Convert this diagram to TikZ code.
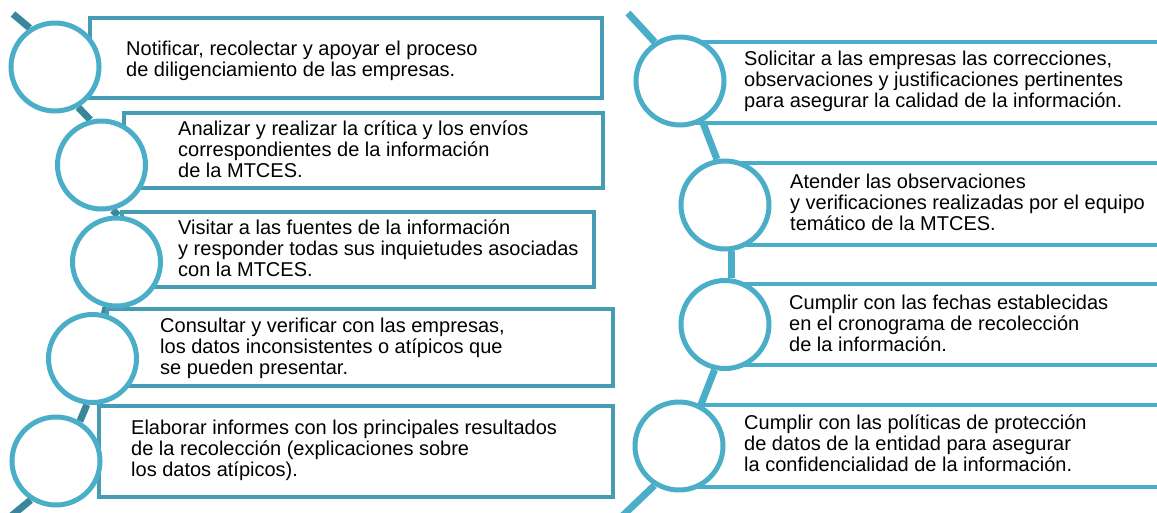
\documentclass[tikz,border=0pt]{standalone}
\usepackage{fontspec}
\setmainfont{Liberation Sans}
\usetikzlibrary{positioning}
\definecolor{ringblue}{RGB}{75,174,200}
\definecolor{boxblue}{RGB}{69,156,180}
\definecolor{spinedark}{RGB}{58,134,154}
\pgfdeclarelayer{background}
\pgfsetlayers{background,main}
\tikzset{
  ring/.style={circle, draw=ringblue, line width=5pt, fill=white, minimum size=88pt, inner sep=0pt},
  lbox/.style={draw=boxblue, line width=4pt},
  rbox/.style={draw=ringblue, line width=4.5pt},
  lspine/.style={draw=spinedark, line width=7pt},
  rspine/.style={draw=ringblue, line width=7pt},
  txt/.style={anchor=base west, align=left, inner sep=0pt, text=black,
    font=\fontsize{20}{20.6}\selectfont}
}

\begin{document}
\begin{tikzpicture}[x=1pt, y=-1pt]
			%%%%% START %%%%%
			\useasboundingbox (0,0) rectangle (1157,512);

			% left column: boxes
			\draw[lbox] (90, 18) rectangle (602, 98);
			\draw[lbox] (124, 113) rectangle (603, 188);
			\draw[lbox] (122, 212) rectangle (594, 287);
			\draw[lbox] (107, 309) rectangle (613, 386);
			\draw[lbox] (99, 406) rectangle (613, 497);

			% right column: open boxes
			\draw[rbox] (690, 42) rectangle (1175, 123);
			\draw[rbox] (735, 163) rectangle (1175, 245);
			\draw[rbox] (735, 284) rectangle (1175, 365);
			\draw[rbox] (690, 405) rectangle (1175, 487);

			% circles
			\node[ring] (c1) at (55, 67) {};
			\node[ring] (c2) at (101.5, 165) {};
			\node[ring] (c3) at (116.5, 262) {};
			\node[ring] (c4) at (92.5, 358.5) {};
			\node[ring] (c5) at (56, 461) {};

			\node[ring] (d1) at (680, 81) {};
			\node[ring] (d2) at (725, 205) {};
			\node[ring] (d3) at (725, 324.5) {};
			\node[ring] (d4) at (679, 446) {};

			% spine ends
			\coordinate (ltop) at (13, 14);
			\coordinate (lbot) at (4, 522);
			\coordinate (rtop) at (628, 13);
			\coordinate (rbot) at (614, 524);

			\begin{pgfonlayer}{background}
				\draw[lspine] (ltop) -- (c1.123);
				\draw[lspine] (c1.-60) -- (c2.104);
				\draw[lspine] (c2.-76) -- (c3.88);
				\draw[lspine] (c3.-103) -- (c4.75);
				\draw[lspine] (c4.-97) -- (c5.59);
				\draw[lspine] (c5.-123) -- (lbot);

				\draw[rspine] (rtop) -- (d1.123);
				\draw[rspine] (d1.-61) -- (d2.100);
				\draw[rspine] (d2.-82) -- (d3.82);
				\draw[rspine] (d3.-103) -- (d4.62);
				\draw[rspine] (d4.-122) -- (rbot);
			\end{pgfonlayer}

			% texts (placed at the baseline of the last line)
			\node[txt] (t1) at (126, 76) {Notificar, recolectar y apoyar el proceso\\de diligenciamiento de las empresas.};
			\node[txt] (t2) at (178, 177) {Analizar y realizar la crítica y los envíos\\correspondientes de la información\\de la MTCES.};
			\node[txt] (t3) at (178, 276) {Visitar a las fuentes de la información\\y responder todas sus inquietudes asociadas\\con la MTCES.};
			\node[txt] (t4) at (160, 374) {Consultar y verificar con las empresas,\\los datos inconsistentes o atípicos que\\se pueden presentar.};
			\node[txt] (t5) at (131, 476) {Elaborar informes con los principales resultados\\de la recolección (explicaciones sobre\\los datos atípicos).};

			\node[txt] (r1) at (744, 107) {Solicitar a las empresas las correcciones,\\observaciones y justificaciones pertinentes\\para asegurar la calidad de la información.};
			\node[txt] (r2) at (790, 230) {Atender las observaciones\\y verificaciones realizadas por el equipo\\temático de la MTCES.};
			\node[txt] (r3) at (789, 351) {Cumplir con las fechas establecidas\\en el cronograma de recolección\\de la información.};
			\node[txt] (r4) at (744, 471) {Cumplir con las políticas de protección\\de datos de la entidad para asegurar\\la confidencialidad de la información.};

			%%%%% END %%%%%
\end{tikzpicture}
\end{document}
